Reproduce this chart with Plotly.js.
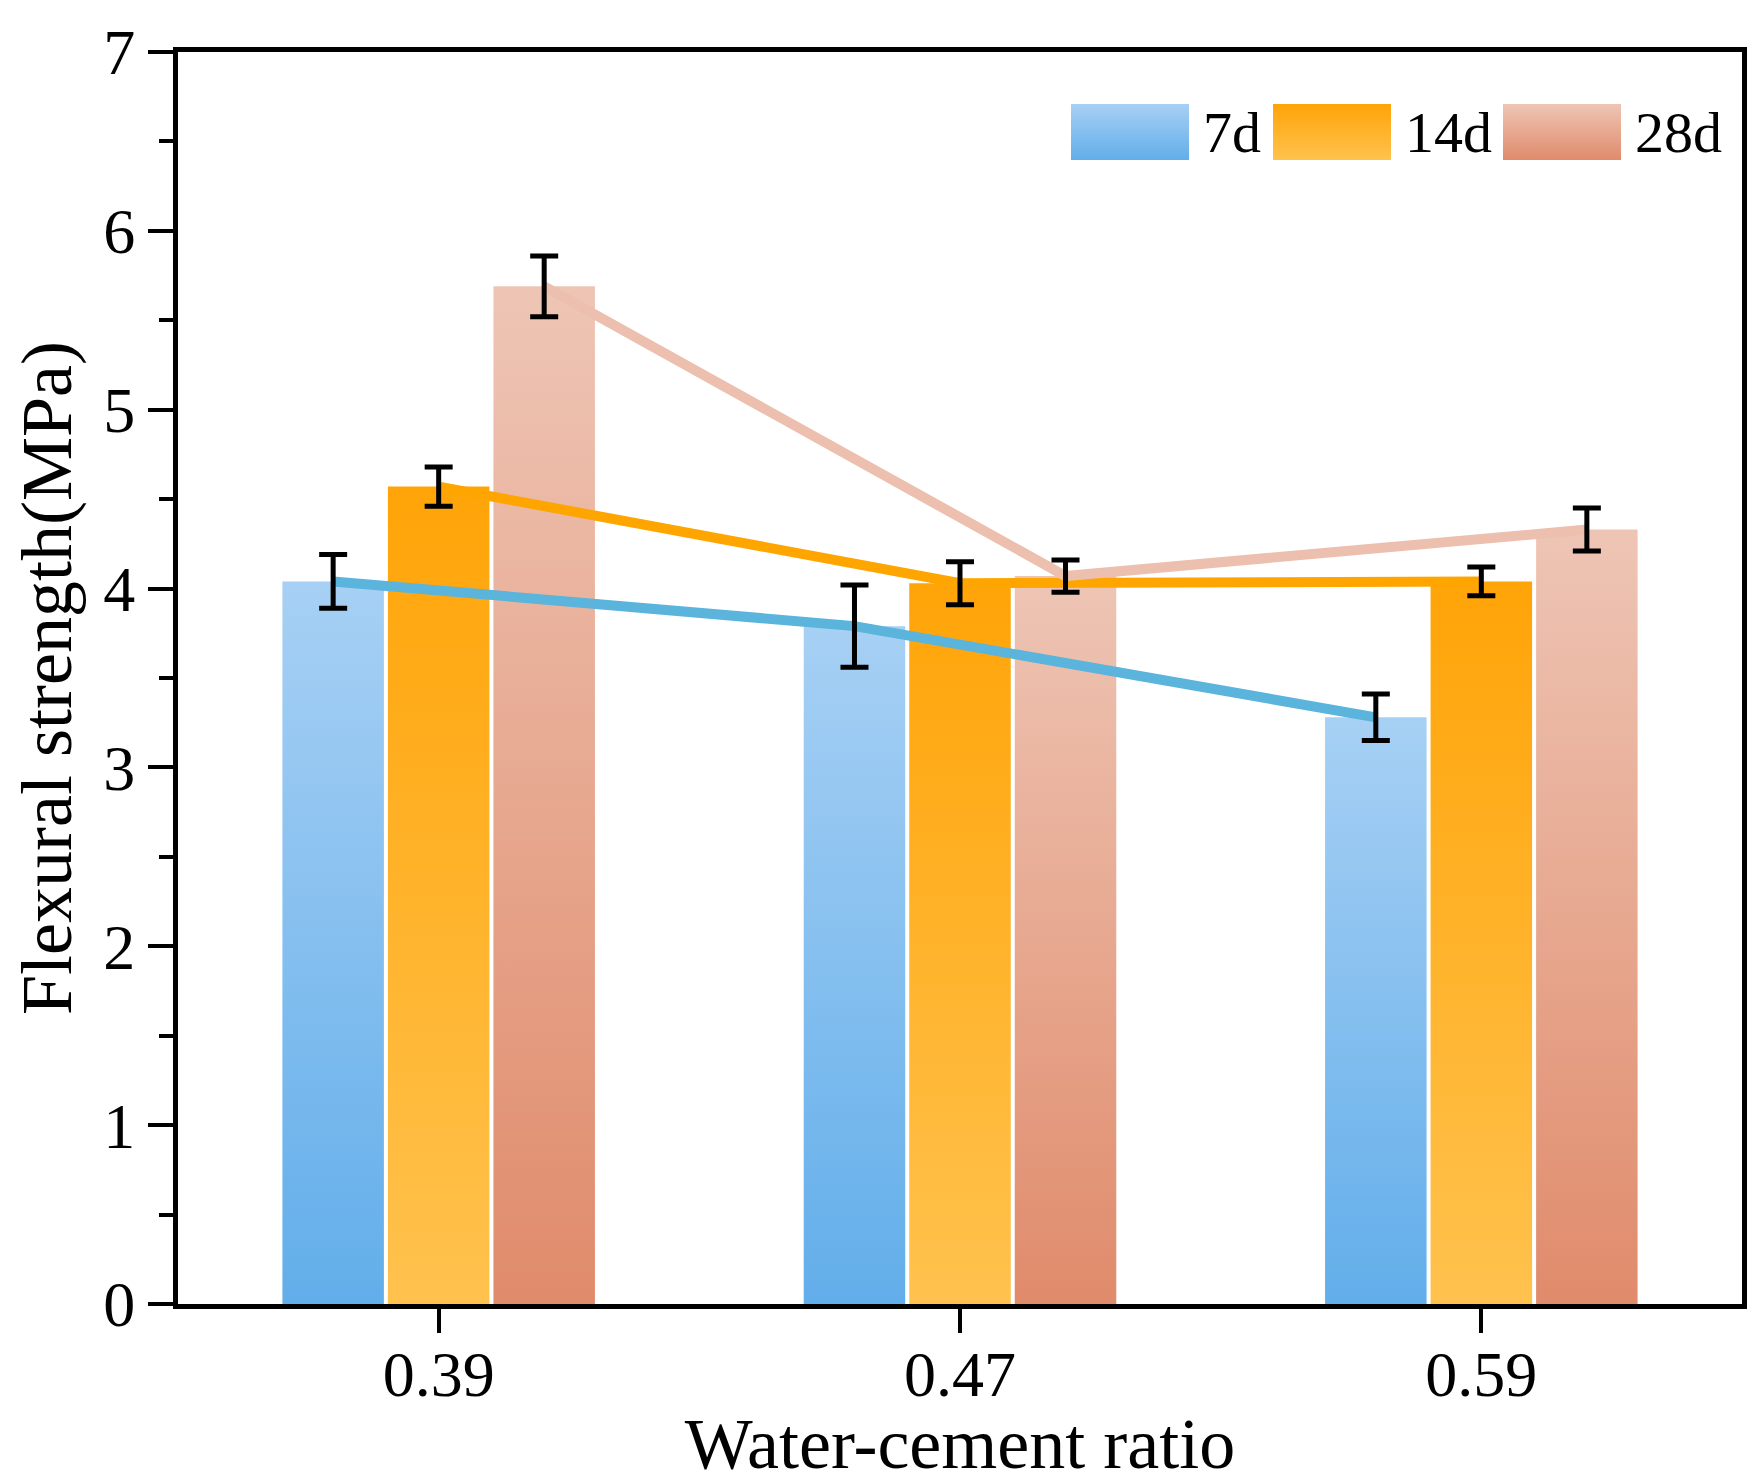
<!DOCTYPE html>
<html><head><meta charset="utf-8">
<script src="https://cdn.plot.ly/plotly-3.0.1.min.js"></script>
<style>html,body{margin:0;padding:0;background:#fff}</style>
</head><body>
<div id="chart" style="width:1764px;height:1484px"></div>
<script>
// ---- data ----
const ratios = ['0.39', '0.47', '0.59'];
const seriesNames = ['7d', '14d', '28d'];
const strength7d = [4.04, 3.79, 3.28];
const strength14d = [4.57, 4.03, 4.04];
const strength28d = [5.69, 4.07, 4.33];
const err7d = [0.15, 0.23, 0.13];
const err14d = [0.11, 0.12, 0.08];
const err28d = [0.17, 0.09, 0.12];

// ---- styling ----
const values = [strength7d, strength14d, strength28d];
const errors = [err7d, err14d, err28d];
const gradTop = ['#a7d0f4', '#ffa408', '#eec5b5'];
const gradBottom = ['#62aeea', '#ffc24e', '#e08b6b'];
const lineColors = ['#5ab4dc', '#ffa500', '#ecbfae'];
const pitch = 0.2024, barW = 0.1947;
const idx = ratios.map((_, i) => i);
const xFor = j => idx.map(i => i + (j - 1) * pitch);

const FONT = '"Liberation Serif", "Times New Roman", Times, serif';

const data = [];
values.forEach((v, j) => data.push({
  type: 'bar', x: xFor(j), y: v, width: barW, name: seriesNames[j],
  marker: {color: gradBottom[j], line: {width: 0}}, hoverinfo: 'skip'
}));
values.forEach((v, j) => data.push({
  type: 'scatter', mode: 'lines', x: xFor(j), y: v,
  line: {color: lineColors[j], width: 10}, hoverinfo: 'skip'
}));
values.forEach((v, j) => data.push({
  type: 'scatter', mode: 'markers', x: xFor(j), y: v,
  marker: {size: 1, color: 'rgba(0,0,0,0)'},
  error_y: {type: 'data', array: errors[j], visible: true, color: '#000', thickness: 5, width: 14},
  hoverinfo: 'skip'
}));

// legend geometry (pixels) converted to paper coordinates
const plotL = 178, plotR = 1742, plotT = 52, plotB = 1304;
const px = v => (v - plotL) / (plotR - plotL);
const py = v => (plotB - v) / (plotB - plotT);
const legendLeft = [1071, 1273, 1503];
const swW = 118, swTop = 104, swBot = 160;

const shapes = seriesNames.map((n, j) => ({
  type: 'rect', xref: 'paper', yref: 'paper', layer: 'above',
  x0: px(legendLeft[j]), x1: px(legendLeft[j] + swW),
  y0: py(swBot), y1: py(swTop),
  fillcolor: gradBottom[j], line: {width: 0}
}));
const annotations = seriesNames.map((n, j) => ({
  text: n, xref: 'paper', yref: 'paper', showarrow: false,
  x: px(legendLeft[j] + swW + 12), xanchor: 'left',
  y: py((swTop + swBot) / 2), yanchor: 'middle',
  font: {family: FONT, size: 58, color: '#000'}
}));

const layout = {
  width: 1764, height: 1484,
  margin: {l: plotL, r: 1764 - plotR, t: plotT, b: 1484 - plotB, pad: 0},
  paper_bgcolor: '#fff', plot_bgcolor: '#fff',
  showlegend: false,
  font: {family: FONT, color: '#000'},
  xaxis: {
    range: [-0.5, 2.5], tickmode: 'array', tickvals: idx, ticktext: ratios,
    ticks: 'outside', ticklen: 24, tickwidth: 4, tickcolor: '#000',
    ticklabelstandoff: -14,
    showline: true, linewidth: 5, linecolor: '#000', mirror: true,
    showgrid: false, zeroline: false,
    tickfont: {family: FONT, size: 64, color: '#000'},
    title: {text: 'Water-cement ratio', font: {family: FONT, size: 72, color: '#000'}, standoff: 24}
  },
  yaxis: {
    range: [0, 7], tickmode: 'linear', tick0: 0, dtick: 1,
    ticks: 'outside', ticklen: 25, tickwidth: 4, tickcolor: '#000',
    minor: {dtick: 0.5, ticks: 'outside', ticklen: 14, tickwidth: 4, tickcolor: '#000', showgrid: false},
    showline: true, linewidth: 5, linecolor: '#000', mirror: true,
    showgrid: false, zeroline: false,
    tickfont: {family: FONT, size: 64, color: '#000'},
    title: {text: 'Flexural strength(MPa)', font: {family: FONT, size: 72, color: '#000'}, standoff: 10}
  },
  shapes: shapes,
  annotations: annotations
};

const gd = document.getElementById('chart');
Plotly.newPlot(gd, data, layout, {staticPlot: true, displayModeBar: false}).then(() => {
  const ns = 'http://www.w3.org/2000/svg';
  const svg = gd.querySelector('.main-svg');
  let defs = svg.querySelector('defs');
  if (!defs) { defs = document.createElementNS(ns, 'defs'); svg.insertBefore(defs, svg.firstChild); }
  gradTop.forEach((c, j) => {
    const lg = document.createElementNS(ns, 'linearGradient');
    lg.setAttribute('id', 'barGrad' + j);
    lg.setAttribute('x1', '0'); lg.setAttribute('y1', '0');
    lg.setAttribute('x2', '0'); lg.setAttribute('y2', '1');
    [[0, c], [1, gradBottom[j]]].forEach(([o, col]) => {
      const s = document.createElementNS(ns, 'stop');
      s.setAttribute('offset', o);
      s.setAttribute('stop-color', col);
      lg.appendChild(s);
    });
    defs.appendChild(lg);
  });
  gd.querySelectorAll('.barlayer .trace').forEach((t, j) => {
    t.querySelectorAll('path').forEach(p => { p.style.fill = 'url(#barGrad' + j + ')'; });
  });
  gd.querySelectorAll('.layer-above .shapelayer path').forEach((p, j) => {
    p.style.fill = 'url(#barGrad' + j + ')';
  });
});
</script>
</body></html>
